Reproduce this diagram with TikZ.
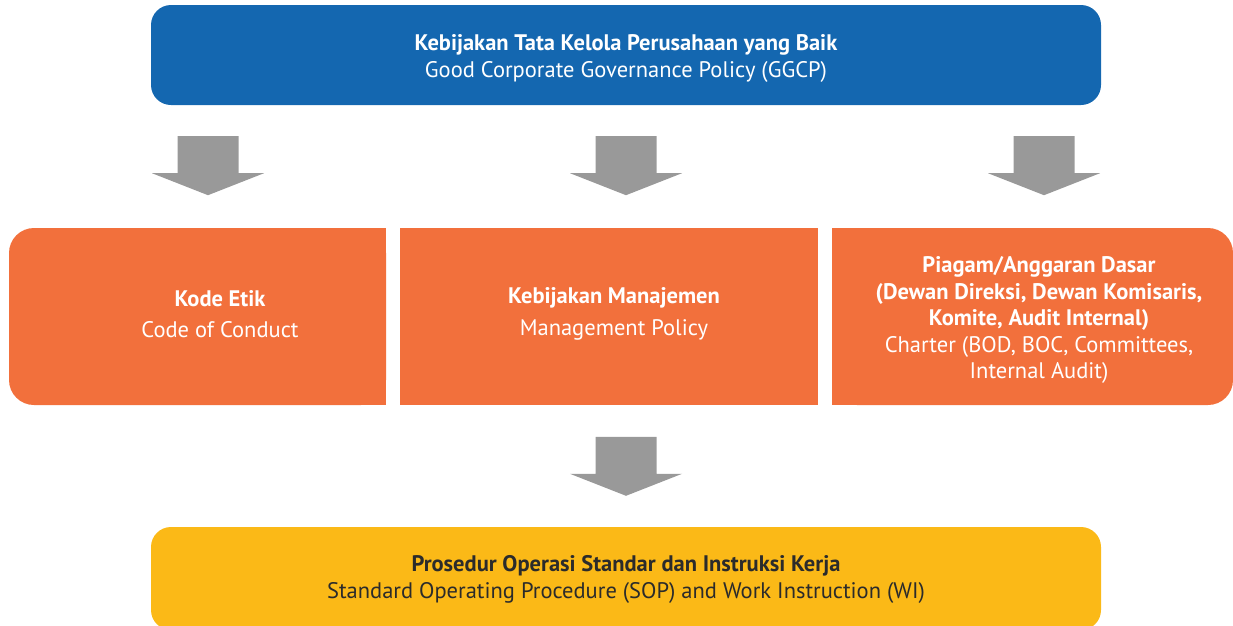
\documentclass[tikz,border=0pt]{standalone}
\usepackage{fontspec}
\setmainfont{PT Sans}
\usetikzlibrary{positioning,calc}
\definecolor{ggblue}{HTML}{1467B0}
\definecolor{ggorange}{HTML}{F2703C}
\definecolor{ggyellow}{HTML}{FBB917}
\definecolor{gggray}{HTML}{999999}
\definecolor{ggdark}{HTML}{2B2B2B}

% grey block arrow pointing down, hung from its top centre
\newcommand{\blockarrow}[1]{%
  \fill[gggray] (#1) ++(-30.5,0) -- ++(61,0) -- ++(0,37) -- ++(25.5,0)
    -- ++(-56,22) -- ++(-56,-22) -- ++(25.5,0) -- cycle;}

\begin{document}
\begin{tikzpicture}[x=1pt,y=-1pt,
    txt/.style={align=center, inner sep=0pt,
                font=\fontsize{22.5}{26.5}\selectfont},
    wide/.style={rectangle, rounded corners=20pt, minimum width=950pt},
    orangebox/.style={fill=ggorange},
]
\useasboundingbox (0,0) rectangle (1233,625);

% top and bottom
\node[wide, fill=ggblue, minimum height=100pt] (ggcp) at (626,55) {};
\node[txt, text=white, font=\fontsize{22.5}{27}\selectfont]
  (ggcptext) at ($(ggcp.center)+(0,3)$)
  {\textbf{Kebijakan Tata Kelola Perusahaan yang Baik}\\
   Good Corporate Governance Policy (GGCP)};
\node[wide, fill=ggyellow, minimum height=103pt] (sop) at (626,578.5) {};
\node[txt, text=ggdark, font=\fontsize{22.5}{27}\selectfont]
  (soptext) at ($(sop.center)+(0,1)$)
  {\textbf{Prosedur Operasi Standar dan Instruksi Kerja}\\
   Standard Operating Procedure (SOP) and Work Instruction (WI)};

% middle row
\fill[orangebox, rounded corners=25pt] (9,228) rectangle (386,405);
\fill[orangebox] (200,228) rectangle (386,405);
\fill[orangebox] (400,228) rectangle (818,405);
\fill[orangebox, rounded corners=25pt] (832,228) rectangle (1233,405);
\fill[orangebox] (832,228) rectangle (1000,405);

\node[txt, text=white] (kode) at (220,314)
  {\textbf{Kode Etik}\\[5pt]Code of Conduct};
\node[txt, text=white] (manajemen) at (614,314)
  {\textbf{Kebijakan Manajemen}\\[5pt]Management Policy};
\node[txt, text=white] (piagam) at (1039,320)
  {\textbf{Piagam/Anggaran Dasar}\\
   \textbf{(Dewan Direksi, Dewan Komisaris,}\\
   \textbf{Komite, Audit Internal)}\\
   Charter (BOD, BOC, Committees,\\
   Internal Audit)};

% arrows
\coordinate (a1) at ($(ggcp.south)+(-418,31)$);
\coordinate (a2) at ($(ggcp.south)+(0,31)$);
\coordinate (a3) at ($(ggcp.south)+(418,31)$);
\coordinate (a4) at ($(sop.north)+(0,-90)$);
\blockarrow{a1}
\blockarrow{a2}
\blockarrow{a3}
\blockarrow{a4}

\end{tikzpicture}
\end{document}
